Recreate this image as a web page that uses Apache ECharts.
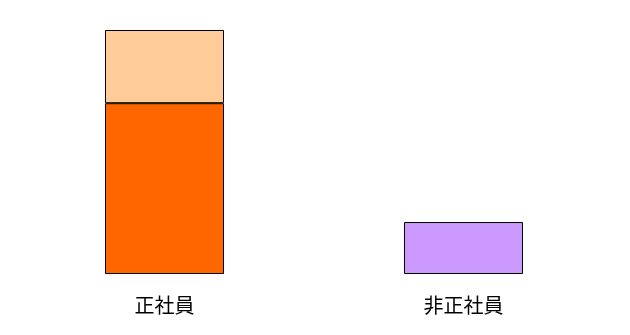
<!DOCTYPE html>
<html>
<head>
<meta charset="utf-8">
<script src="https://cdn.jsdelivr.net/npm/echarts@6/dist/echarts.min.js"></script>
<style>
html,body{margin:0;padding:0;background:#fff;}
#c{width:630px;height:335px;}
</style>
</head>
<body>
<div id="c"></div>
<script>
var categories = ['正社員', '非正社員'];
var lowerValues = [70, '-'];
var upperValues = [30, '-'];
var otherValues = ['-', 21.3];

var chart = echarts.init(document.getElementById('c'), null, {renderer: 'canvas'});
chart.setOption({
  animation: false,
  grid: {left: 15, right: 17, top: 30, bottom: 61, containLabel: false},
  xAxis: {
    type: 'category',
    data: categories,
    axisLine: {show: false},
    axisTick: {show: false},
    axisLabel: {
      margin: 21,
      fontSize: 20,
      color: '#000',
      fontFamily: '"Noto Sans CJK JP", sans-serif'
    }
  },
  yAxis: {
    type: 'value',
    min: 0,
    max: 100,
    show: false,
    splitLine: {show: false}
  },
  series: [
    {
      type: 'bar', stack: 's', data: lowerValues, barWidth: '39.8%',
      itemStyle: {color: '#FF6600', borderColor: '#000', borderWidth: 1}
    },
    {
      type: 'bar', stack: 's', data: upperValues, barWidth: '39.8%',
      itemStyle: {color: '#FFCC99', borderColor: '#000', borderWidth: 1}
    },
    {
      type: 'bar', stack: 's', data: otherValues, barWidth: '39.8%',
      itemStyle: {color: '#CC99FF', borderColor: '#000', borderWidth: 1}
    }
  ]
});
</script>
</body>
</html>
